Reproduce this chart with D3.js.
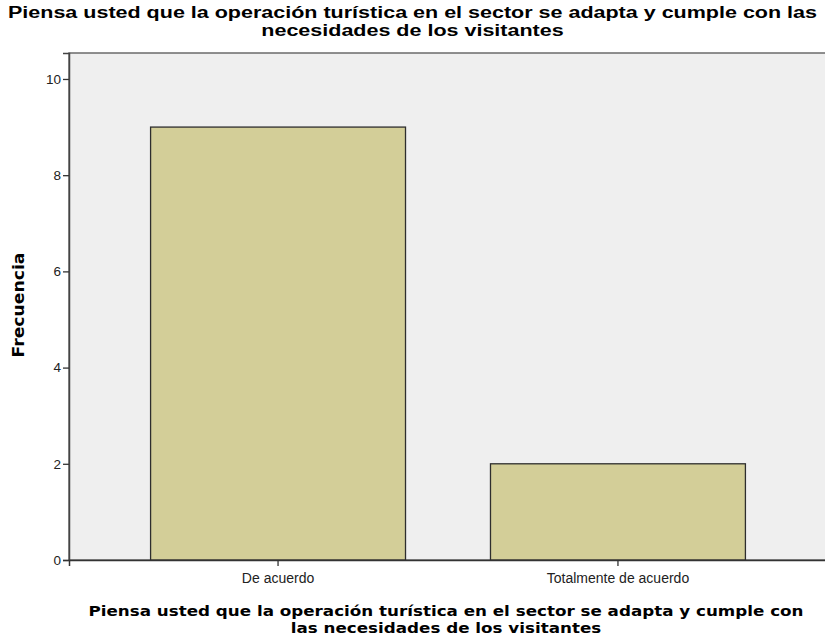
<!DOCTYPE html>
<html lang="es">
  <head>
    <meta charset="utf-8">
    <title>Frecuencia</title>
    <script src="https://d3js.org/d3.v7.min.js"></script>
    <style>
      body { margin: 0; background: #fff; }
      svg { display: block; }
    </style>
  </head>
  <body>
    <script>
    // data
    const categories = ["De acuerdo", "Totalmente de acuerdo"]
    const counts = [9, 2]
    const yTicks = [0, 2, 4, 6, 8, 10]
    const titleLines = ["Piensa usted que la operación turística en el sector se adapta y cumple con las",
                        "necesidades de los visitantes"]
    const xTitleLines = ["Piensa usted que la operación turística en el sector se adapta y cumple con",
                         "las necesidades de los visitantes"]
    const yTitle = "Frecuencia"

    const size = { width: 825, height: 644 }
    const plot = { left: 69, top: 53, right: 827, bottom: 560 }

    const svg = d3.select("body").append("svg")
        .attr("width", size.width)
        .attr("height", size.height)

    let x = d3.scaleBand()
        .domain(categories)
        .range([plot.left, plot.right])
        .paddingInner(0.25)
        .paddingOuter(0.24)

    let y = d3.scaleLinear()
        .domain([0, 10.54])
        .range([plot.bottom, plot.top])

    // plot background + frame
    svg.append("rect")
        .attr("x", plot.left).attr("y", plot.top)
        .attr("width", plot.right - plot.left)
        .attr("height", plot.bottom - plot.top)
        .attr("fill", "#efefef")
        .attr("stroke", "#6b6b6b")
        .attr("stroke-width", 1.5)

    svg.selectAll(".bar")
        .data(counts)
        .enter()
        .append("rect")
            .attr("class", "bar")
            .attr("x", (d, i) => x(categories[i]))
            .attr("y", d => y(d))
            .attr("width", x.bandwidth())
            .attr("height", d => y(0) - y(d))
            .attr("fill", "#d3ce98")
            .attr("stroke", "#2e2e2e")
            .attr("stroke-width", 1.3)

    // axes
    let yAxis = d3.axisLeft(y).tickValues(yTicks).tickSize(6).tickPadding(2)
    let gy = svg.append("g")
        .attr("transform", `translate(${plot.left},0)`)
        .call(yAxis)
    gy.select(".domain").attr("stroke", "#444").attr("stroke-width", 1.5)
    gy.selectAll(".tick line").attr("stroke", "#333").attr("stroke-width", 1.3)
    gy.selectAll(".tick text")
        .attr("font-family", "Liberation Sans, Arial, sans-serif")
        .attr("font-size", 13.5).attr("fill", "#222")

    let xAxis = d3.axisBottom(x).tickSize(6).tickPadding(7)
    let gx = svg.append("g")
        .attr("transform", `translate(0,${plot.bottom})`)
        .call(xAxis)
    gx.select(".domain").attr("stroke", "#333").attr("stroke-width", 1.5)
    gx.selectAll(".tick line").attr("stroke", "#333").attr("stroke-width", 1.3)
    gx.selectAll(".tick text")
        .attr("font-family", "Liberation Sans, Arial, sans-serif")
        .attr("font-size", 14).attr("fill", "#222")

    // fit a block of lines so that its first line spans the given width
    function fitLines(sel, firstWidth) {
        const nodes = sel.nodes()
        const k = firstWidth / nodes[0].getComputedTextLength()
        nodes.forEach(n => {
            d3.select(n)
                .attr("textLength", n.getComputedTextLength() * k)
                .attr("lengthAdjust", "spacingAndGlyphs")
        })
    }

    // chart title
    let title = svg.append("text")
        .attr("text-anchor", "middle")
        .attr("font-family", "Liberation Sans, Arial, sans-serif")
        .attr("font-weight", "bold")
        .attr("font-size", 16)
        .selectAll("tspan")
        .data(titleLines)
        .enter()
        .append("tspan")
            .attr("x", size.width / 2)
            .attr("y", (d, i) => 18 + i * 18)
            .text(d => d)
    fitLines(title, 809)

    // x axis title
    let xTitle = svg.append("text")
        .attr("text-anchor", "middle")
        .attr("font-family", "DejaVu Sans, Verdana, sans-serif")
        .attr("font-weight", "bold")
        .attr("font-size", 14)
        .selectAll("tspan")
        .data(xTitleLines)
        .enter()
        .append("tspan")
            .attr("x", (plot.left + plot.right) / 2 - 2)
            .attr("y", (d, i) => 616 + i * 17)
            .text(d => d)
    fitLines(xTitle, 715)

    // y axis title
    svg.append("text")
        .attr("transform", "rotate(-90)")
        .attr("x", -305)
        .attr("y", 24)
        .attr("text-anchor", "middle")
        .attr("font-family", "DejaVu Sans, Verdana, sans-serif")
        .attr("font-weight", "bold")
        .attr("font-size", 15)
        .attr("textLength", 105)
        .attr("lengthAdjust", "spacingAndGlyphs")
        .text(yTitle)
    </script>
  </body>
</html>
